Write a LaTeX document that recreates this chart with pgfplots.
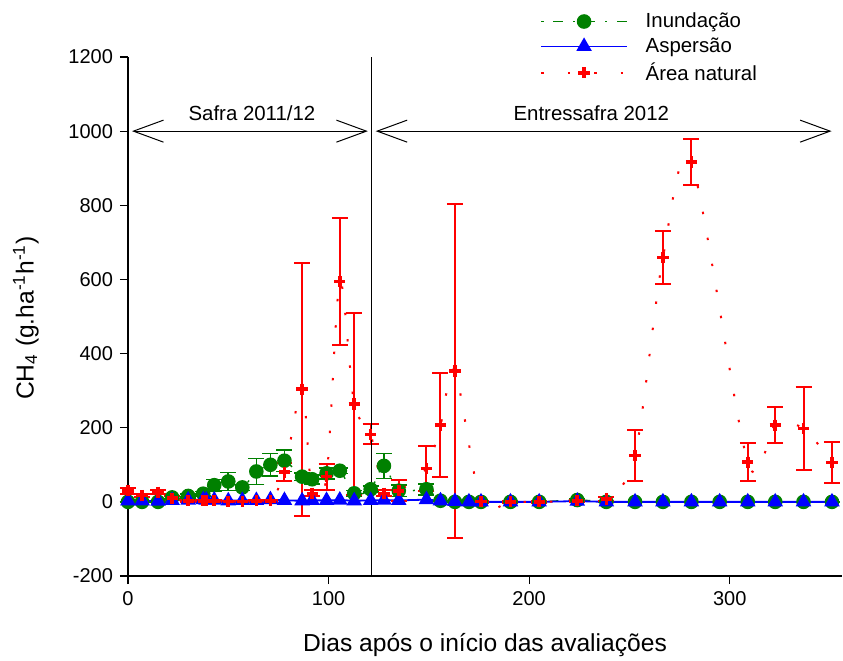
\documentclass[border=0pt]{standalone}
\usepackage{fontspec}
\setmainfont{Liberation Sans}
\usepackage{pgfplots}
\pgfplotsset{compat=1.18}
\usetikzlibrary{arrows.meta}
\definecolor{inund}{RGB}{0,128,0}
\definecolor{asper}{RGB}{0,0,255}
\definecolor{natur}{RGB}{255,0,0}

\begin{document}
\begin{tikzpicture}
\begin{axis}[
    scale only axis,
    width=357pt, height=259.5pt,
    xmin=0, xmax=356, ymin=-200, ymax=1200,
    axis x line*=bottom, axis y line*=left,
    xtick={0,100,200,300},
    ytick={-200,0,200,400,600,800,1000,1200},
    minor tick num=0,
    tick align=outside, major tick length=4pt,
    every tick/.style={black, line width=0.6pt},
    axis line style={black, line width=0.6pt},
    tick label style={font=\fontsize{10}{12}\selectfont},
    /pgf/number format/assume math mode=true,
    /pgf/number format/1000 sep={},
    clip=false,
    xlabel={Dias após o início das avaliações},
    ylabel={CH\textsubscript{4} (g.ha\textsuperscript{-1}h\textsuperscript{-1})},
    label style={font=\fontsize{12.3}{14}\selectfont},
    xlabel style={at={(axis description cs:0.5,-0.133)}, anchor=center},
    ylabel style={at={(axis description cs:-0.143,0.497)}, anchor=center},
    legend style={draw=none, fill=none, at={(axis description cs:0.577,1.094)},
        anchor=north west, font=\fontsize{10.2}{12}\selectfont,
        row sep=-0.4pt, inner sep=0pt,
        /tikz/every odd column/.append style={column sep=7pt}},
    legend cell align=left,
    legend image code/.code={
        \draw[mark repeat=2, mark phase=2, #1]
            plot coordinates {(0cm,0cm) (0.75cm,0cm) (1.5cm,0cm)};
    },
]
% Inundacao
\addplot[color=inund, draw=inund, line width=0.7pt, dash pattern=on 1pt off 5pt on 5pt off 5pt,
    smooth, mark=*, mark size=3.3pt, mark options={solid, fill=inund, draw=inund},
    error bars/.cd, y dir=both, y explicit,
    error bar style={solid, line width=0.8pt, draw=inund},
    error mark options={solid, line width=0.8pt, draw=inund, mark size=4pt, rotate=90}]
table[x=x, y=y, y error=e] {
x y e
0 0 0
7 0 0
15 0 0
22 12 5
30 16 5
37.5 22 6
43 45 15
50 55 24
57 39 8
64 82 35
71 100 31
78 111 29
86.8 68 10
91.8 61 12
99 77 15
105.6 84 8
112.8 23 8
121 34 8
127.6 97 34
135 30 15
148.8 34 15
155.8 3 0
163 0 0
170 0 0
176 0 0
190.7 0 0
205 0 0
224 5 3
238.5 0 0
252.8 0 0
266.7 0 0
280.9 0 0
295 0 0
309 0 0
322.7 0 0
336.8 0 0
351 0 0
};
\addlegendentry{Inundação}
% Aspersao
\addplot[color=asper, draw=asper, line width=0.9pt, mark=triangle*, mark size=3.6pt,
    mark options={solid, fill=asper, draw=asper}]
table[x=x, y=y] {
x y
0 3
7 3
15 2
22 4
30 5
37.5 6
39 5
43 5
50 3
57 4
64 4
71 6
78 4
86.8 3
91.8 4
99 4
105.6 5
112.8 3
121 4
127.6 5
135 4
148.8 6
155.8 3
163 1
170 0
176 0
190.7 0
205 0
224 2
238.5 0
252.8 0
266.7 0
280.9 0
295 0
309 0
322.7 0
336.8 0
351 0
};
\addlegendentry{Aspersão}
% Area natural
\addplot[color=natur, draw=natur, line width=1pt, dash pattern=on 1.2pt off 12pt, smooth,
    mark=+, mark size=2.8pt, mark options={solid, line width=1.8pt, draw=natur},
    error bars/.cd, y dir=both, y explicit,
    error bar style={solid, line width=1pt, draw=natur},
    error mark options={solid, line width=1pt, draw=natur, mark size=4pt, rotate=90}]
table[x=x, y=y, y error=e] {
x y e
0 30 8
7 17 5
15 26 6
22 10 5
30 3 3
37.5 3 3
39 3 3
43 3 3
50 1 2
57 1 2
64 3 3
71 3 3
78 80 25
86.8 304 341
91.8 23 8
99 68 35
105.6 594 171
112.8 264 246
121 182 27
127.6 23 8
135 30 28
148.8 90 61
155.8 207 140
163 353 450
176 0.5 3
190.7 0 2
205 0 2
224 3 3
238.5 8 5
252.8 125 70
266.7 659 72
280.9 917 62
309 107 52
322.7 207 49
336.8 198 112
351 106 56
};
\addlegendentry{Área natural}

% season divider and arrows
\draw[black, line width=0.6pt] (axis cs:121.4,-200) -- (axis cs:121.4,1200);
\draw[black, line width=0.5pt,
    {Straight Barb[length=15pt,width=11pt]}-{Straight Barb[length=15pt,width=11pt]}]
    (axis cs:2,1000) -- (axis cs:119.6,1000);
\draw[black, line width=0.5pt,
    {Straight Barb[length=15pt,width=11pt]}-{Straight Barb[length=15pt,width=11pt]}]
    (axis cs:123.5,1000) -- (axis cs:350.8,1000);
\node[font=\fontsize{10.2}{12}\selectfont] at (axis cs:61.8,1048) {Safra 2011/12};
\node[font=\fontsize{10.2}{12}\selectfont] at (axis cs:231,1048) {Entressafra 2012};

\coordinate (bl) at (rel axis cs:0,0);
\coordinate (tr) at (rel axis cs:1,1);
\end{axis}
\pgfresetboundingbox
\path ([shift={(-64pt,-42pt)}]bl) rectangle ([shift={(0.5pt,28.5pt)}]tr);
\end{tikzpicture}
\end{document}
